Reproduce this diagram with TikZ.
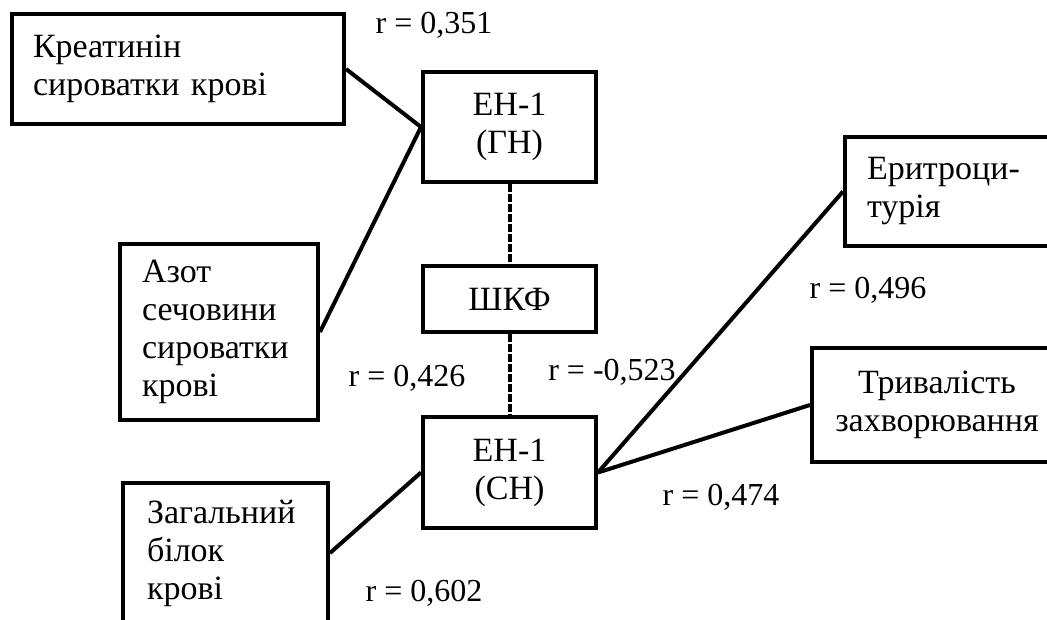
\documentclass[tikz,border=0pt]{standalone}
\usepackage{fontspec}
\setmainfont{Liberation Serif}
\usetikzlibrary{positioning}

\begin{document}
\begin{tikzpicture}[x=1pt, y=-1pt,
    box/.style={draw, line width=4pt, rectangle, inner ysep=0pt, align=center,
        font=\fontsize{34}{38}\selectfont},
    boxl/.style={box, align=left},
    corr/.style={font=\fontsize{32}{38}\selectfont, inner sep=0pt},
    link/.style={line width=4pt},
    dlink/.style={line width=4pt, dash pattern=on 8pt off 2pt}]
    \useasboundingbox (0,0) rectangle (1047,619);

    % Left column
    \node[boxl, minimum width=332pt, minimum height=110pt, inner xsep=21pt, text width=290pt]
        (kreat) at (178,69) {Креатинін\\сироватки крові};
    \node[boxl, minimum width=198pt, minimum height=176pt, inner xsep=22pt, text width=154pt]
        (azot) at (219,332) {Азот\\сечовини\\сироватки\\крові};
    \node[boxl, minimum width=205pt, minimum height=140pt, inner xsep=24pt, text width=157pt]
        (zahbil) at (225.5,553) {Загальний\\білок\\крові};

    % Central column
    \node[box, minimum width=173pt, minimum height=110pt] (enGN) at (509.5,127) {ЕН-1\\(ГН)};
    \node[box, minimum width=173pt, minimum height=66pt] (shkf) at (509.5,299) {ШКФ};
    \node[box, minimum width=173pt, minimum height=111pt] (enSN) at (509.5,472.5) {ЕН-1\\(СН)};

    % Right column
    \node[boxl, minimum width=217pt, minimum height=109pt, inner xsep=22pt, text width=173pt]
        (erytr) at (953.5,191.5) {Еритроци-\\турія};
    \node[box, minimum width=250pt, minimum height=114pt] (tryv) at (937,405)
        {Тривалість\\захворювання};

    % Connectors
    \draw[link] (kreat.east) -- (enGN.west);
    \draw[link] (azot.east) -- (enGN.west);
    \draw[link] (zahbil.east) -- (enSN.west);
    \draw[link] (enSN.east) -- (erytr.west);
    \draw[link] (enSN.east) -- (tryv.west);
    \draw[dlink] (enGN.south) -- (shkf.north);
    \draw[dlink] (shkf.south) -- (enSN.north);

    % Correlation values
    \node[corr] (r351) at (434,25) {r = 0,351};
    \node[corr] (r426) at (407,378) {r = 0,426};
    \node[corr] (r523) at (612,372) {r = -0,523};
    \node[corr] (r496) at (868,290) {r = 0,496};
    \node[corr] (r474) at (721,497) {r = 0,474};
    \node[corr] (r602) at (424,593) {r = 0,602};
\end{tikzpicture}
\end{document}
